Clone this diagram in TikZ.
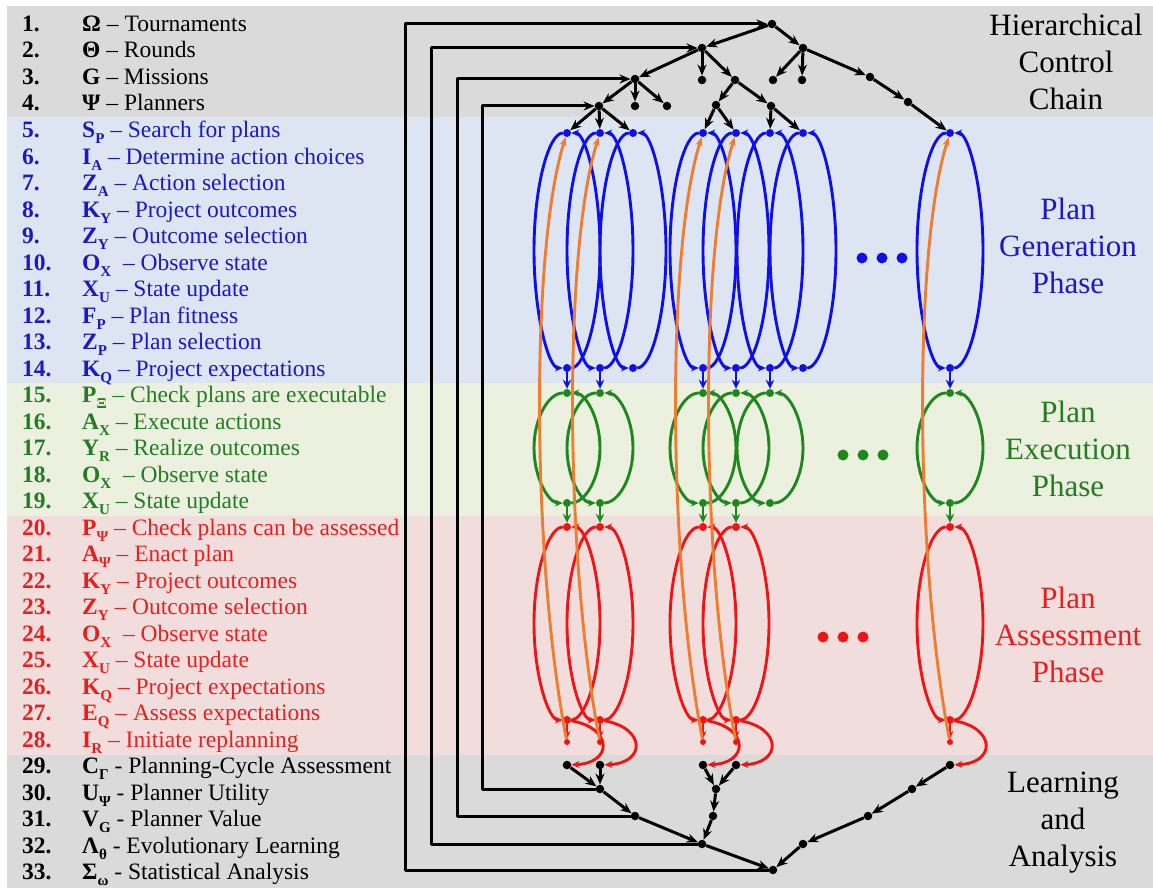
\documentclass[tikz,border=0pt]{standalone}
\usepackage{fontspec}
\setmainfont{Liberation Serif}
\usetikzlibrary{arrows.meta}

\definecolor{bandgray}{RGB}{218,218,218}
\definecolor{bandblue}{RGB}{221,229,242}
\definecolor{bandgreen}{RGB}{236,241,223}
\definecolor{bandred}{RGB}{242,221,221}
\definecolor{txtblue}{RGB}{25,25,200}
\definecolor{txtgreen}{RGB}{35,125,35}
\definecolor{txtred}{RGB}{235,30,30}
\definecolor{lnblue}{RGB}{15,15,235}
\definecolor{lngreen}{RGB}{30,135,30}
\definecolor{lnred}{RGB}{240,20,20}
\definecolor{lnorange}{RGB}{237,125,49}

% lowered bold subscript
\newcommand\sbs[1]{\raisebox{-0.27em}{\fontsize{15}{15}\selectfont\bfseries #1}}
\newcommand\sym[2]{\textbf{#1}\sbs{#2}}

% one numbered entry of the legend
\newcommand\entry[4]{%
  \node[numtxt,text=#2] (num#1) at (22,{31.5+(#1-1)*26.5}) {#1.};
  \node[itemtxt,text=#2] (item#1) at (82,{31.5+(#1-1)*26.5}) {#3#4};}

% one cycle: top node, bottom node, elliptic left half going down,
% elliptic right half going back up
\newcommand\ovalloop[5]{%
  \node[#5dot] (#1t) at (#2,#3) {};
  \node[#5dot] (#1b) at (#2,#4) {};
  \coordinate (#1l) at ({#2-33},{(#3+#4)/2});
  \coordinate (#1r) at ({#2+33},{(#3+#4)/2});
  \draw[#5line] (#1t) .. controls +(-18.2,0) and +(0,{-0.5523*(#4-#3)/2}) .. (#1l)
                      .. controls +(0,{0.5523*(#4-#3)/2}) and +(-18.2,0) .. (#1b);
  \draw[#5line] (#1b) .. controls +(18.2,0) and +(0,{0.5523*(#4-#3)/2}) .. (#1r)
                      .. controls +(0,{-0.5523*(#4-#3)/2}) and +(18.2,0) .. (#1t);}

\tikzset{
  numtxt/.style={anchor=base west,inner sep=0,font=\fontsize{23.5}{26}\selectfont\bfseries},
  itemtxt/.style={anchor=base west,inner sep=0,font=\fontsize{23.5}{26}\selectfont},
  phase/.style={align=center,inner sep=0,font=\fontsize{31}{37}\selectfont},
  kdot/.style={circle,fill=black,inner sep=0,minimum size=8.5pt},
  kedge/.style={line width=3pt,line join=round,-{Stealth[length=11pt,width=9pt]}},
  bluedot/.style={circle,fill=lnblue,inner sep=0,minimum size=8pt},
  greendot/.style={circle,fill=lngreen,inner sep=0,minimum size=8pt},
  reddot/.style={circle,fill=lnred,inner sep=0,minimum size=8pt},
  irdot/.style={circle,fill=lnred,inner sep=0,minimum size=6pt},
  blueline/.style={color=lnblue,line width=2.9pt,-{Stealth[length=8pt,width=7pt]}},
  greenline/.style={color=lngreen,line width=2.9pt,-{Stealth[length=8pt,width=7pt]}},
  redline/.style={color=lnred,line width=2.9pt,-{Stealth[length=8pt,width=7pt]}},
  handover/.style={line width=2.9pt,-{Stealth[length=9pt,width=8.5pt]}},
  orangeline/.style={color=lnorange,line width=2.9pt,-{Stealth[length=9pt,width=7pt]}},
}

\begin{document}
\begin{tikzpicture}[x=1pt,y=-1pt]
\useasboundingbox (0,0) rectangle (1153,888);

% phase bands
\fill[bandgray]  (7,6)   rectangle (1153,117);
\fill[bandblue]  (7,117) rectangle (1153,383);
\fill[bandgreen] (7,383) rectangle (1153,516);
\fill[bandred]   (7,516) rectangle (1153,755);
\fill[bandgray]  (7,755) rectangle (1153,888);

% legend
\entry{1}{black}{\textbf{Ω}}{\ – Tournaments}
\entry{2}{black}{\textbf{Θ}}{\ – Rounds}
\entry{3}{black}{\textbf{G}}{\ – Missions}
\entry{4}{black}{\textbf{Ψ}}{\ – Planners}
\entry{5}{txtblue}{\sym{S}{P}}{\ – Search for plans}
\entry{6}{txtblue}{\sym{I}{A}}{\ – Determine action choices}
\entry{7}{txtblue}{\sym{Z}{A}}{\ – Action selection}
\entry{8}{txtblue}{\sym{K}{Y}}{\ – Project outcomes}
\entry{9}{txtblue}{\sym{Z}{Y}}{\ – Outcome selection}
\entry{10}{txtblue}{\sym{O}{X}}{\ \ – Observe state}
\entry{11}{txtblue}{\sym{X}{U}}{\ – State update}
\entry{12}{txtblue}{\sym{F}{P}}{\ – Plan fitness}
\entry{13}{txtblue}{\sym{Z}{P}}{\ – Plan selection}
\entry{14}{txtblue}{\sym{K}{Q}}{\ – Project expectations}
\entry{15}{txtgreen}{\sym{P}{Ξ}}{\ – Check plans are executable}
\entry{16}{txtgreen}{\sym{A}{X}}{\ – Execute actions}
\entry{17}{txtgreen}{\sym{Y}{R}}{\ – Realize outcomes}
\entry{18}{txtgreen}{\sym{O}{X}}{\ \ – Observe state}
\entry{19}{txtgreen}{\sym{X}{U}}{\ – State update}
\entry{20}{txtred}{\sym{P}{Ψ}}{\ – Check plans can be assessed}
\entry{21}{txtred}{\sym{A}{Ψ}}{\ – Enact plan}
\entry{22}{txtred}{\sym{K}{Y}}{\ – Project outcomes}
\entry{23}{txtred}{\sym{Z}{Y}}{\ – Outcome selection}
\entry{24}{txtred}{\sym{O}{X}}{\ \ – Observe state}
\entry{25}{txtred}{\sym{X}{U}}{\ – State update}
\entry{26}{txtred}{\sym{K}{Q}}{\ – Project expectations}
\entry{27}{txtred}{\sym{E}{Q}}{\ – Assess expectations}
\entry{28}{txtred}{\sym{I}{R}}{\ – Initiate replanning}
\entry{29}{black}{\sym{C}{Γ}}{\ - Planning-Cycle Assessment}
\entry{30}{black}{\sym{U}{Ψ}}{\ - Planner Utility}
\entry{31}{black}{\sym{V}{G}}{\ - Planner Value}
\entry{32}{black}{\sym{Λ}{θ}}{\ - Evolutionary Learning}
\entry{33}{black}{\sym{Σ}{ω}}{\ - Statistical Analysis}

% phase titles
\node[phase,text=black]    (hcc)  at (1066,62)  {Hierarchical\\Control\\Chain};
\node[phase,text=txtblue]  (pgp)  at (1068,246) {Plan\\Generation\\Phase};
\node[phase,text=txtgreen] (pep)  at (1068,449) {Plan\\Execution\\Phase};
\node[phase,text=txtred]   (pap)  at (1068,635) {Plan\\Assessment\\Phase};
\node[phase,text=black]    (laa)  at (1063,823) {Learning\\and\\Analysis};

% control chain nodes
\node[kdot] (r0) at (772,24) {};
\node[kdot] (a1) at (702,48) {};
\node[kdot] (a2) at (803,48) {};
\node[kdot] (b1) at (635,79) {};
\node[kdot] (b2) at (702,80) {};
\node[kdot] (b3) at (735,80) {};
\node[kdot] (b4) at (773,80) {};
\node[kdot] (b5) at (802,80) {};
\node[kdot] (b6) at (870,77) {};
\node[kdot] (c1) at (599,106) {};
\node[kdot] (c2) at (635,106) {};
\node[kdot] (c3) at (667,106) {};
\node[kdot] (c4) at (716,105) {};
\node[kdot] (c5) at (771,106) {};
\node[kdot] (c6) at (908,102) {};

% learning and analysis nodes
\node[kdot] (K1) at (567,765) {};
\node[kdot] (K2) at (600,765) {};
\node[kdot] (K4) at (703,765) {};
\node[kdot] (K5) at (736,765) {};
\node[kdot] (K8) at (950,765) {};
\node[kdot] (m1) at (600,789) {};
\node[kdot] (m2) at (716,789) {};
\node[kdot] (m3) at (912,789) {};
\node[kdot] (n1) at (635,816) {};
\node[kdot] (n2) at (713,816) {};
\node[kdot] (n3) at (868,816) {};
\node[kdot] (p1) at (702,844) {};
\node[kdot] (p2) at (803,844) {};
\node[kdot] (q0) at (773,870) {};

% plan generation cycles
\ovalloop{B1}{567}{133}{368}{blue}
\ovalloop{B2}{600}{133}{368}{blue}
\ovalloop{B3}{633}{133}{368}{blue}
\ovalloop{B4}{703}{133}{368}{blue}
\ovalloop{B5}{736}{133}{368}{blue}
\ovalloop{B6}{770}{133}{368}{blue}
\ovalloop{B7}{803}{133}{368}{blue}
\ovalloop{B8}{950}{133}{368}{blue}

% plan execution cycles
\ovalloop{G1}{567}{393}{503}{green}
\ovalloop{G2}{600}{393}{503}{green}
\ovalloop{G4}{703}{393}{503}{green}
\ovalloop{G5}{736}{393}{503}{green}
\ovalloop{G6}{770}{393}{503}{green}
\ovalloop{G8}{950}{393}{503}{green}

% plan assessment cycles
\ovalloop{R1}{567}{527}{720}{red}
\ovalloop{R2}{600}{527}{720}{red}
\ovalloop{R4}{703}{527}{720}{red}
\ovalloop{R5}{736}{527}{720}{red}
\ovalloop{R8}{950}{527}{720}{red}

% replanning triggers
\foreach \k/\x in {1/567,2/600,4/703,5/736,8/950}
  \node[irdot] (I\k) at (\x,742) {};

% control chain edges
\foreach \u/\v in {r0/a1,r0/a2,a1/b1,a1/b2,a1/b3,a2/b4,a2/b5,a2/b6,
                   b1/c1,b1/c2,b1/c3,b3/c4,b3/c5,b6/c6,
                   c1/B1t,c1/B2t,c1/B3t,c4/B4t,c4/B5t,c5/B6t,c5/B7t,c6/B8t}
  \draw[kedge] (\u) -- (\v);

% learning and analysis edges
\foreach \u/\v in {K1/m1,K2/m1,m1/n1,n1/p1,p1/q0,K4/m2,K5/m2,m2/n2,n2/p1,
                   K8/m3,m3/n3,n3/p2,p2/q0}
  \draw[kedge] (\u) -- (\v);

% feedback to the control chain
\draw[kedge] (m1) -- ++(-118,0) |- (c1);
\draw[kedge] (n1) -- ++(-178,0) |- (b1);
\draw[kedge] (p1) -- ++(-271,0) |- (a1);
\draw[kedge] (q0) -- ++(-368,0) |- (r0);

% hand-over between phases
\foreach \k in {1,2,4,5,6,8}
  \draw[handover,color=lnblue] (B\k b) -- (G\k t);
\foreach \k in {1,2,4,5,8} {
  \draw[handover,color=lngreen] (G\k b) -- (R\k t);
  \draw[redline] (R\k b) -- (I\k);
  \draw[redline] (R\k b) .. controls +(46,8) and +(46,-2) .. (K\k);
  \draw[orangeline] (I\k) .. controls +(-35,-180) and +(-37,117) .. (B\k t);
}

% continuation marks
\foreach \x in {862,882,902} \fill[lnblue] (\x,258) circle[radius=5.5];
\foreach \x in {843,863,883} \fill[lngreen] (\x,455) circle[radius=5.5];
\foreach \x in {823,843,863} \fill[lnred] (\x,637) circle[radius=5.5];

\end{tikzpicture}
\end{document}
